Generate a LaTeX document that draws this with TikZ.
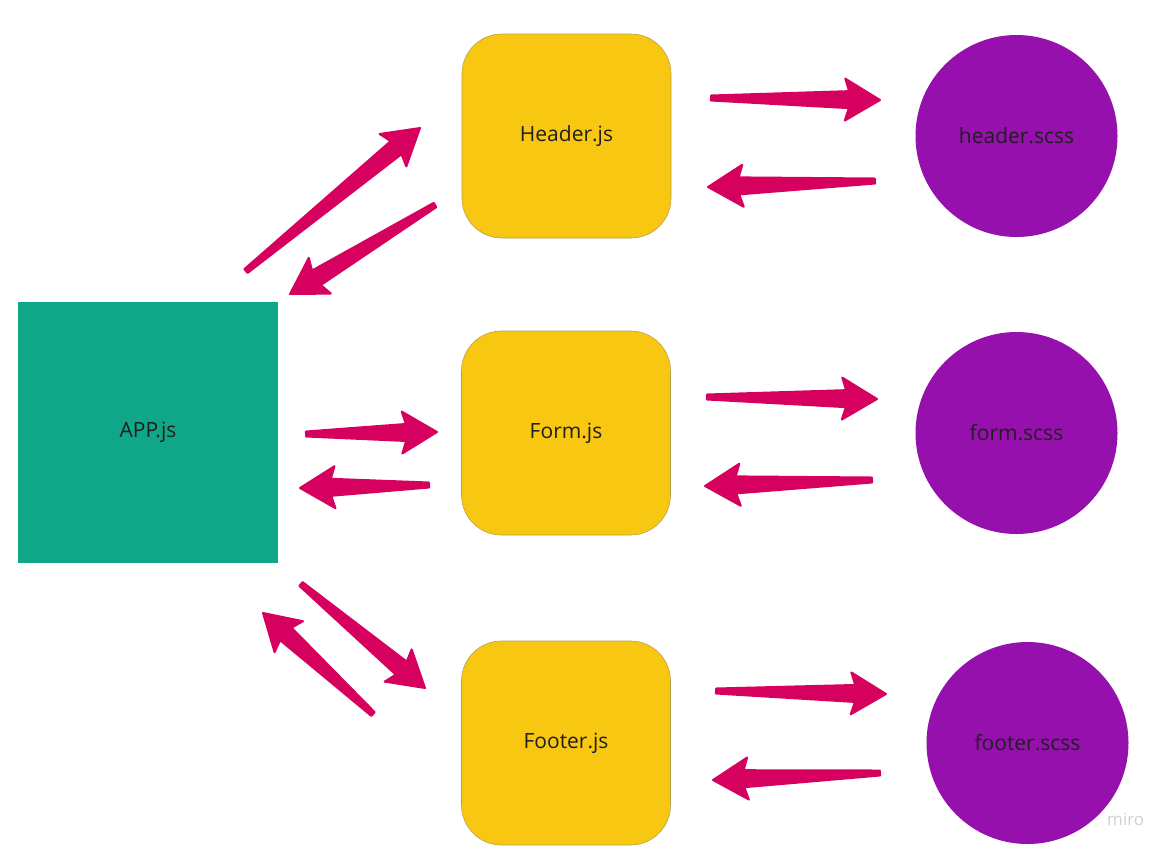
\documentclass[tikz,border=0pt]{standalone}
\usepackage{fontspec}
\setmainfont{Open Sans}
\usetikzlibrary{calc}
\definecolor{appgreen}{HTML}{0FA787}
\definecolor{jsyellow}{HTML}{F8C712}
\definecolor{jsborder}{HTML}{B9A04A}
\definecolor{scsspurple}{HTML}{9510AC}
\definecolor{arrowpink}{HTML}{D6005F}
\definecolor{labeltext}{HTML}{1F1F1F}
\definecolor{watermark}{HTML}{D0D0D8}
\newcommand{\taparrow}[2]{%
  \coordinate (hb) at ($(#2)!31pt!(#1)$);
  \coordinate (hw) at ($(#2)!35pt!(#1)$);
  \fill[arrowpink, draw=arrowpink, line width=2pt, line join=round]
    ($(#1)!2.5pt!90:(#2)$) --
    ($(hb)!8.5pt!90:(#2)$) --
    ($(hw)!21pt!90:(#2)$) --
    (#2) --
    ($(hw)!21pt!-90:(#2)$) --
    ($(hb)!8.5pt!-90:(#2)$) --
    ($(#1)!2.5pt!-90:(#2)$) -- cycle;
}
\begin{document}
\begin{tikzpicture}[x=1pt,y=-1pt,
  lbl/.style={text=labeltext, font=\fontsize{21}{25}\selectfont},
  appbox/.style={lbl, fill=appgreen, minimum width=260pt, minimum height=261pt, inner sep=0pt},
  jsbox/.style={lbl, fill=jsyellow, draw=jsborder, line width=0.6pt, rounded corners=40pt, minimum width=209pt, minimum height=204pt, inner sep=0pt},
  scssnode/.style={lbl, fill=scsspurple, circle, minimum size=202pt, inner sep=0pt}]
\useasboundingbox (0,0) rectangle (1172,852);
\fill[white] (0,0) rectangle (1172,852);

\node[appbox] (app) at (148,432.5) {APP.js};
\node[jsbox] (header) at (566.5,136) {Header.js};
\node[jsbox] (form) at (566,433) {Form.js};
\node[jsbox] (footer) at (566,743) {Footer.js};
\node[scssnode] (hscss) at (1016.5,136) {header.scss};
\node[scssnode] (fscss) at (1016.5,433) {form.scss};
\node[scssnode] (ftscss) at (1027.5,743) {footer.scss};

% arrow end points
\coordinate (a1s) at (246,271);  \coordinate (a1e) at (420,128);
\coordinate (a2s) at (435,205);  \coordinate (a2e) at (290,294);
\coordinate (a3s) at (711,98);   \coordinate (a3e) at (880,100);
\coordinate (a4s) at (875,181);  \coordinate (a4e) at (708,187);
\coordinate (a5s) at (306,434);  \coordinate (a5e) at (437,432);
\coordinate (a6s) at (429,485);  \coordinate (a6e) at (300,488);
\coordinate (a7s) at (707,397);  \coordinate (a7e) at (877,399);
\coordinate (a8s) at (872,480);  \coordinate (a8e) at (705,486);
\coordinate (a9s) at (301,584);  \coordinate (a9e) at (425,688);
\coordinate (a10s) at (373,714); \coordinate (a10e) at (263,613);
\coordinate (a11s) at (716,691); \coordinate (a11e) at (886,694);
\coordinate (a12s) at (880,773); \coordinate (a12e) at (713,780);

\taparrow{a1s}{a1e}
\taparrow{a2s}{a2e}
\taparrow{a3s}{a3e}
\taparrow{a4s}{a4e}
\taparrow{a5s}{a5e}
\taparrow{a6s}{a6e}
\taparrow{a7s}{a7e}
\taparrow{a8s}{a8e}
\taparrow{a9s}{a9e}
\taparrow{a10s}{a10e}
\taparrow{a11s}{a11e}
\taparrow{a12s}{a12e}

\node[text=watermark, font=\fontsize{17}{20}\selectfont, anchor=west, inner sep=0pt] (miro) at (1107,819) {miro};
\end{tikzpicture}
\end{document}
